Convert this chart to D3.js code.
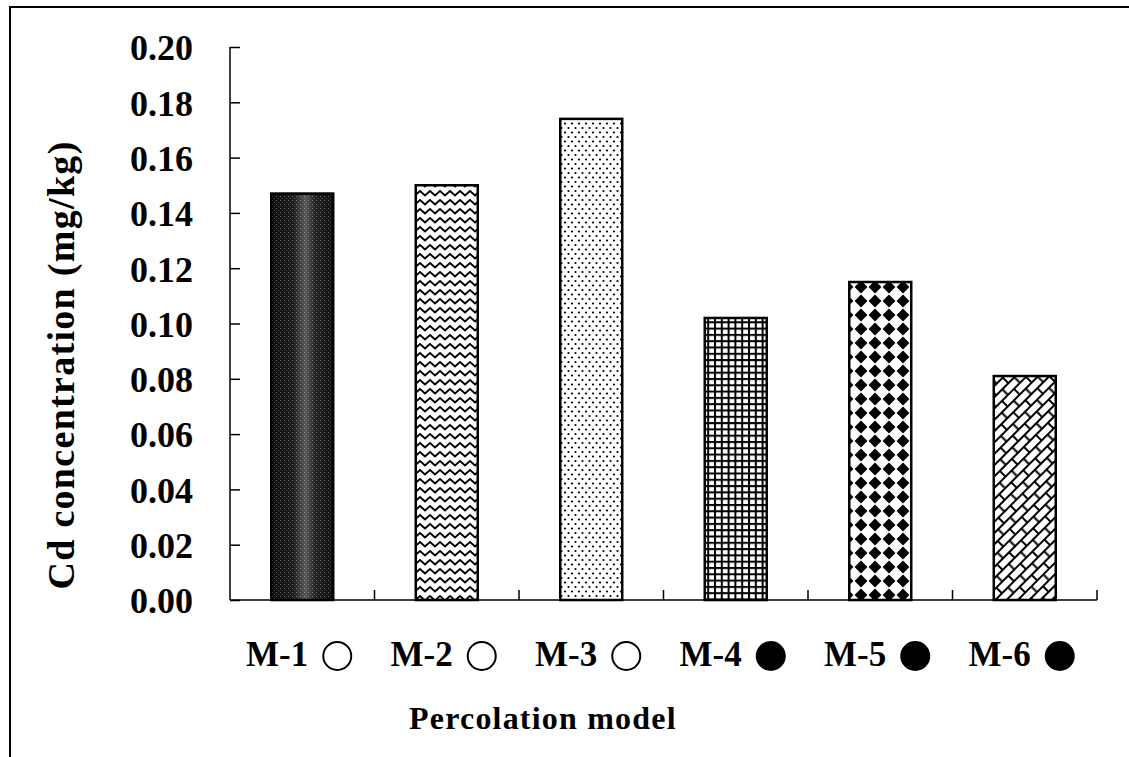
<!DOCTYPE html>
<html>
<head>
<meta charset="utf-8">
<script src="https://cdn.jsdelivr.net/npm/d3@7"></script>
<style>
  html, body { margin: 0; padding: 0; background: #fff; }
  svg { display: block; }
  text { font-family: "Liberation Serif", "Times New Roman", serif; font-weight: bold; fill: #000; }
</style>
</head>
<body>
<svg id="chart" width="1129" height="757"></svg>
<script>
// Cd concentration for each percolation model
const models = ["M-1", "M-2", "M-3", "M-4", "M-5", "M-6"];
const cdValues = [0.147, 0.150, 0.174, 0.102, 0.115, 0.081];
// open (false) / filled (true) marker after each model name
const filledMarker = [false, false, false, true, true, true];
const patternIds = ["pStipple", "pZigzag", "pDots", "pGrid", "pDiamond", "pBrick"];
const yTicks = [0, 0.02, 0.04, 0.06, 0.08, 0.10, 0.12, 0.14, 0.16, 0.18, 0.20];
const yTitle = "Cd concentration (mg/kg)";
const xTitle = "Percolation model";

const svg = d3.select("#chart");
const plotLeft = 230, plotRight = 1097, plotTop = 47, plotBottom = 600;

const y = d3.scaleLinear().domain([0, 0.2]).range([plotBottom, plotTop]);
const inner = 0.571;
const x = d3.scaleBand().domain(models).range([plotLeft, plotRight])
  .paddingInner(inner).paddingOuter(inner / 2);

// ---------- fill patterns ----------
const defs = svg.append("defs");

// dark stipple with a lighter middle band
const pSt = defs.append("pattern").attr("id", "pStipple")
  .attr("patternUnits", "userSpaceOnUse").attr("width", 4).attr("height", 4);
pSt.append("rect").attr("width", 4).attr("height", 4).attr("fill", "#0e0e0e");
pSt.append("rect").attr("x", 0).attr("y", 0).attr("width", 1).attr("height", 1).attr("fill", "#6a6a6a");
pSt.append("rect").attr("x", 2).attr("y", 2).attr("width", 1).attr("height", 1).attr("fill", "#4a4a4a");
const band = defs.append("linearGradient").attr("id", "gBand").attr("x1", 0).attr("x2", 1).attr("y1", 0).attr("y2", 0);
band.append("stop").attr("offset", "0%").attr("stop-color", "#fff").attr("stop-opacity", 0.0);
band.append("stop").attr("offset", "35%").attr("stop-color", "#fff").attr("stop-opacity", 0.05);
band.append("stop").attr("offset", "55%").attr("stop-color", "#fff").attr("stop-opacity", 0.3);
band.append("stop").attr("offset", "72%").attr("stop-color", "#fff").attr("stop-opacity", 0.08);
band.append("stop").attr("offset", "100%").attr("stop-color", "#fff").attr("stop-opacity", 0.0);

// zigzag lines
const pZ = defs.append("pattern").attr("id", "pZigzag")
  .attr("patternUnits", "userSpaceOnUse").attr("width", 10).attr("height", 9);
pZ.append("rect").attr("width", 10).attr("height", 9).attr("fill", "#fff");
pZ.append("path").attr("d", "M-5,6.5 L0,2 L5,6.5 L10,2 L15,6.5")
  .attr("fill", "none").attr("stroke", "#000").attr("stroke-width", 2);

// staggered dots
const pD = defs.append("pattern").attr("id", "pDots")
  .attr("patternUnits", "userSpaceOnUse").attr("width", 7).attr("height", 9);
pD.append("rect").attr("width", 7).attr("height", 9).attr("fill", "#fff");
pD.append("circle").attr("cx", 1.5).attr("cy", 2).attr("r", 1.1).attr("fill", "#000");
pD.append("circle").attr("cx", 5).attr("cy", 6.5).attr("r", 1.1).attr("fill", "#000");

// square grid
const pG = defs.append("pattern").attr("id", "pGrid")
  .attr("patternUnits", "userSpaceOnUse").attr("width", 6.8).attr("height", 6.3);
pG.append("rect").attr("width", 6.8).attr("height", 6.3).attr("fill", "#fff");
pG.append("rect").attr("x", 0).attr("y", 0).attr("width", 2).attr("height", 6.3).attr("fill", "#000");
pG.append("rect").attr("x", 0).attr("y", 0).attr("width", 6.8).attr("height", 2).attr("fill", "#000");

// diamond checker
const pM = defs.append("pattern").attr("id", "pDiamond")
  .attr("patternUnits", "userSpaceOnUse").attr("width", 14).attr("height", 14);
pM.append("rect").attr("width", 14).attr("height", 14).attr("fill", "#fff");
pM.append("path").attr("d", "M7,0.6 L13.4,7 L7,13.4 L0.6,7 Z").attr("fill", "#000");

// diagonal brick
const pB = defs.append("pattern").attr("id", "pBrick")
  .attr("patternUnits", "userSpaceOnUse").attr("width", 17).attr("height", 16)
  .attr("patternTransform", "rotate(-45)");
pB.append("rect").attr("width", 17).attr("height", 16).attr("fill", "#fff");
pB.append("path")
  .attr("d", "M0,0 H17 M0,8 H17 M0,16 H17 M0,0 V8 M8.5,8 V16 M17,0 V8")
  .attr("fill", "none").attr("stroke", "#000").attr("stroke-width", 2);

// ---------- outer frame ----------
svg.append("path").attr("d", "M10,760 L10,7 L1135,7")
  .attr("fill", "none").attr("stroke", "#000").attr("stroke-width", 2);

// ---------- bars ----------
const bars = svg.append("g");
bars.selectAll("rect.bar").data(models).join("rect")
  .attr("class", "bar")
  .attr("x", d => x(d))
  .attr("y", (d, i) => y(cdValues[i]))
  .attr("width", x.bandwidth())
  .attr("height", (d, i) => y(0) - y(cdValues[i]))
  .attr("fill", (d, i) => `url(#${patternIds[i]})`);
// lighter centre band on the first bar
bars.append("rect")
  .attr("x", x(models[0]))
  .attr("y", y(cdValues[0]))
  .attr("width", x.bandwidth())
  .attr("height", y(0) - y(cdValues[0]))
  .attr("fill", "url(#gBand)");
bars.selectAll("rect.outline").data(models).join("rect")
  .attr("class", "outline")
  .attr("x", d => x(d))
  .attr("y", (d, i) => y(cdValues[i]))
  .attr("width", x.bandwidth())
  .attr("height", (d, i) => y(0) - y(cdValues[i]))
  .attr("fill", "none").attr("stroke", "#000").attr("stroke-width", 2.5);

// ---------- y axis ----------
const yAxis = svg.append("g").attr("transform", `translate(${plotLeft},0)`)
  .call(d3.axisRight(y).tickValues(yTicks).tickSize(10).tickFormat(""));
yAxis.select(".domain").attr("d", `M0,${plotTop}V${plotBottom}`).attr("stroke-width", 1.5);
yAxis.selectAll(".tick line").attr("stroke-width", 1.5);

svg.append("g").selectAll("text").data(yTicks).join("text")
  .attr("x", 193)
  .attr("y", d => y(d))
  .attr("dy", "0.37em")
  .attr("text-anchor", "end")
  .style("font-size", "36px")
  .text(d => d3.format(".2f")(d));

// ---------- x axis ----------
const step = x.step();
const bounds = d3.range(models.length + 1).map(i => plotLeft + i * step);
svg.append("line").attr("x1", plotLeft).attr("x2", plotRight).attr("y1", plotBottom).attr("y2", plotBottom)
  .attr("stroke", "#000").attr("stroke-width", 1.5);
svg.append("g").selectAll("line").data(bounds.slice(1)).join("line")
  .attr("x1", d => d).attr("x2", d => d)
  .attr("y1", plotBottom).attr("y2", plotBottom - 10)
  .attr("stroke", "#000").attr("stroke-width", 1.5);

// category labels with markers
const lab = svg.append("g").selectAll("g").data(models).join("g")
  .attr("transform", d => `translate(${x(d) + x.bandwidth() / 2},0)`);
lab.append("text")
  .attr("x", 6).attr("y", 666)
  .attr("text-anchor", "end")
  .style("font-size", "35px")
  .text(d => d);
lab.append("circle")
  .attr("cx", 35).attr("cy", 656)
  .attr("r", (d, i) => filledMarker[i] ? 15 : 14)
  .attr("fill", (d, i) => filledMarker[i] ? "#000" : "#fff")
  .attr("stroke", "#000")
  .attr("stroke-width", (d, i) => filledMarker[i] ? 0 : 2);

// ---------- axis titles ----------
svg.append("text")
  .attr("x", 409).attr("y", 729)
  .style("font-size", "32px")
  .style("letter-spacing", "1.2px")
  .text(xTitle);

svg.append("text")
  .attr("transform", "translate(74,365) rotate(-90)")
  .attr("text-anchor", "middle")
  .style("font-size", "38px")
  .style("letter-spacing", "1.3px")
  .text(yTitle);
</script>
</body>
</html>
